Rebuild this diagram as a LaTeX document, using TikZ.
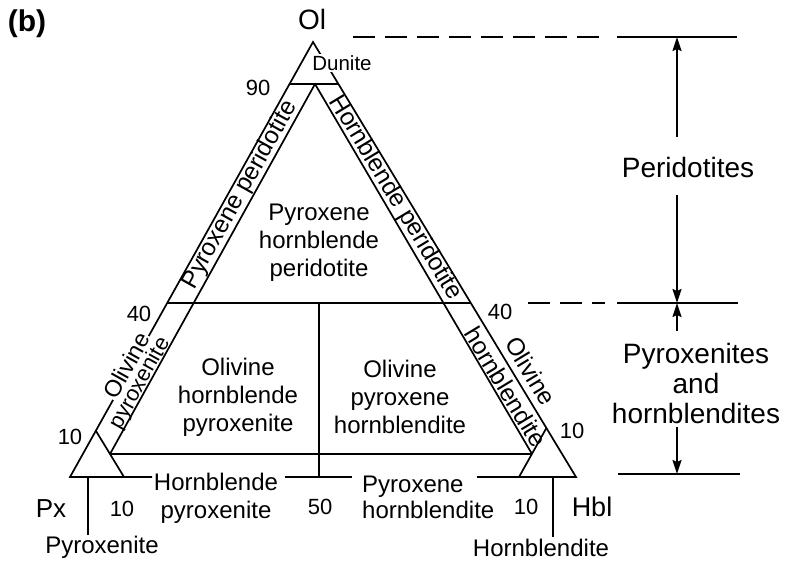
\documentclass[tikz,border=0pt]{standalone}
\usepackage{fontspec}
\setmainfont{Liberation Sans}
\usetikzlibrary{arrows.meta}
\begin{document}
\begin{tikzpicture}[x=1pt,y=-1pt,
  edge/.style={line width=1.7pt, line join=miter, line cap=butt},
  lab/.style={font=\fontsize{24}{28}\selectfont, inner sep=0pt, align=center},
  bandlab/.style={font=\fontsize{24.5}{28}\selectfont, inner sep=0pt},
  num/.style={font=\fontsize{22}{26}\selectfont, inner sep=0pt},
  big/.style={font=\fontsize{28}{30}\selectfont, inner sep=0pt, align=center},
  arr/.style={line width=1.7pt, -{Stealth[length=14pt,width=9pt,inset=2pt]}},
  dashline/.style={line width=1.7pt, dash pattern=on 22pt off 10pt},
  whitebg/.style={fill=white, inner sep=1.5pt}
]
\useasboundingbox (0,0) rectangle (786,562);

% main coordinates
\coordinate (Ol) at (313,42);
\coordinate (Px) at (70,477);
\coordinate (Hbl) at (576,477);
\coordinate (n90L) at (289.5,84);
\coordinate (n90R) at (338.4,84);
\coordinate (I) at (315,84);
\coordinate (n40L) at (167.2,303);
\coordinate (n40R) at (470.8,303);
\coordinate (c10L) at (110,454);
\coordinate (c10R) at (532,454);
\coordinate (pxA) at (96,431);
\coordinate (pxB) at (124,477);
\coordinate (hbA) at (546.4,428);
\coordinate (hbB) at (519,477);
\coordinate (v50T) at (319,303);
\coordinate (v50B) at (319,477);
\coordinate (b1) at (152,477);
\coordinate (b2) at (285,477);
\coordinate (b3) at (352,477);
\coordinate (b4) at (477,477);

% triangle
\draw[edge] (b1) -- (Px) -- (Ol) -- (Hbl) -- (b4);
\draw[edge] (b2) -- (b3);
\draw[edge] (n90L) -- (n90R);
\draw[edge] (I) -- (c10L);
\draw[edge] (I) -- (c10R);
\draw[edge] (n40L) -- (n40R);
\draw[edge] (v50T) -- (v50B);
\draw[edge] (c10L) -- (c10R);
\draw[edge] (pxA) -- (pxB);
\draw[edge] (hbA) -- (hbB);

% ticks under corners
\coordinate (tP1) at (88,477); \coordinate (tP2) at (88,535);
\coordinate (tH1) at (553,477); \coordinate (tH2) at (553,537);
\draw[edge] (tP1) -- (tP2);
\draw[edge] (tH1) -- (tH2);

% right side guide lines
\coordinate (d1a) at (353,37); \coordinate (d1b) at (604,37);
\coordinate (s1a) at (617,37); \coordinate (s1b) at (737,37);
\coordinate (d2a) at (528,303); \coordinate (d2b) at (605,303);
\coordinate (s2a) at (617,303); \coordinate (s2b) at (738,303);
\coordinate (s3a) at (618,474); \coordinate (s3b) at (740,474);
\draw[dashline] (d1a) -- (d1b);
\draw[edge] (s1a) -- (s1b);
\draw[dashline] (d2a) -- (d2b);
\draw[edge] (s2a) -- (s2b);
\draw[edge] (s3a) -- (s3b);

% arrows
\coordinate (a1s) at (677,137); \coordinate (a1e) at (677,37);
\coordinate (a2s) at (677,195); \coordinate (a2e) at (677,303);
\coordinate (a3s) at (677,331); \coordinate (a3e) at (677,303);
\coordinate (a4s) at (677,427); \coordinate (a4e) at (677,474);
\draw[arr] (a1s) -- (a1e);
\draw[arr] (a2s) -- (a2e);
\draw[arr] (a3s) -- (a3e);
\draw[arr] (a4s) -- (a4e);

% labels
\node[font=\bfseries\fontsize{30}{32}\selectfont, inner sep=0pt] (b) at (27,24) {(b)};
\node[big] (ol) at (312,19) {Ol};
\node[font=\fontsize{20.5}{24}\selectfont, whitebg] (dun) at (342,63) {Dunite};
\node[num] (n90) at (258,88) {90};
\node[num] (n40a) at (139,314) {40};
\node[num] (n40b) at (500,312) {40};
\node[num] (n10a) at (70,437) {10};
\node[num] (n10b) at (572,431) {10};
\node[num] (n10c) at (122,509) {10};
\node[num] (n50) at (320,507) {50};
\node[num] (n10d) at (526,507) {10};
\node[font=\fontsize{26}{28}\selectfont, inner sep=0pt] (px) at (51,509) {Px};
\node[font=\fontsize{27}{28}\selectfont, inner sep=0pt] (hbl) at (592,507) {Hbl};
\node[lab] (pyx) at (102,547) {Pyroxenite};
\node[lab] (hbd) at (541,548) {Hornblendite};

\node[bandlab, rotate=60.8] (pp) at (240,195) {Pyroxene peridotite};
\node[bandlab, rotate=-58.8] (hp) at (395,198) {Hornblende peridotite};
\node[font=\fontsize{23.5}{26}\selectfont, rotate=60.8, fill=white, inner sep=0.5pt] (oL) at (126.5,365.5) {Olivine};
\node[font=\fontsize{22}{26}\selectfont, inner sep=0pt, rotate=60.8] (pL) at (140.5,383.5) {pyroxenite};
\node[bandlab, rotate=-58.8] (oR) at (531,371) {Olivine};
\node[bandlab, rotate=-58.8] (hR) at (506,387) {hornblendite};

\node[lab] (php) at (319,243) {Pyroxene\\hornblende\\peridotite};
\node[lab] (ohp) at (238,397) {Olivine\\hornblende\\pyroxenite};
\node[lab] (oph) at (400,397) {Olivine\\pyroxene\\hornblendite};
\node[lab] (hpx) at (216,498) {Hornblende\\pyroxenite};
\node[lab, align=left, anchor=west, font=\fontsize{24}{26}\selectfont] (phb) at (362,497) {Pyroxene\\hornblendite};

\node[big] (per) at (688,167) {Peridotites};
\node[big] (pyh) at (696,383) {Pyroxenites\\and\\hornblendites};
\end{tikzpicture}
\end{document}
